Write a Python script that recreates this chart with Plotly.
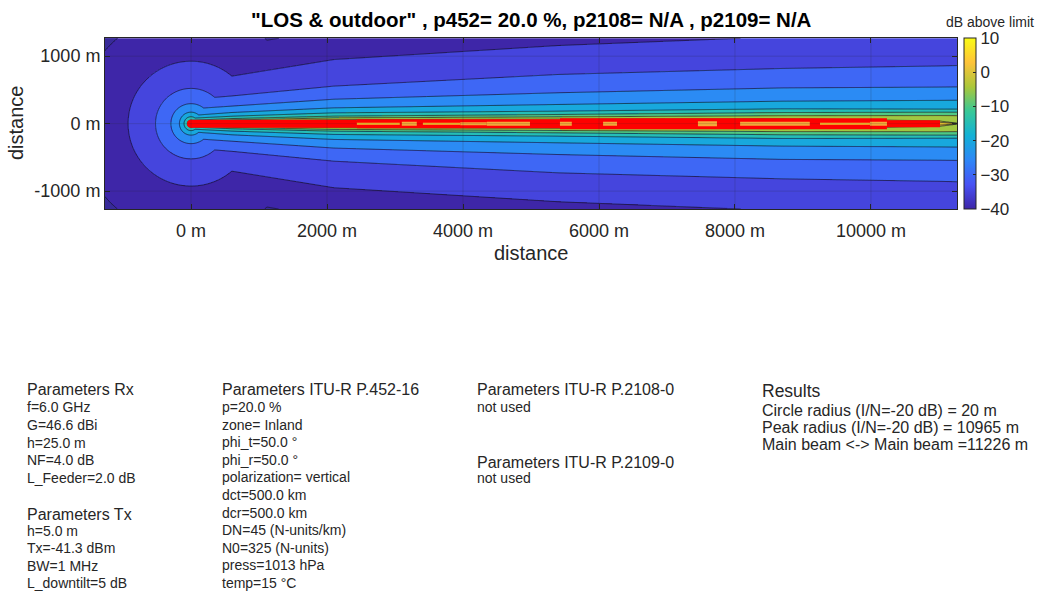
import numpy as np
import plotly.graph_objects as go

# ---------------- data ----------------
levels = [-40, -35, -30, -25, -20, -15, -10, -5, 0, 5]
circle_radius_m = [1665, 925, 522, 296, 170, 103, 54, 30, 17, 9]

beam_x_m = [0, 600, 2100, 5400, 8700, 11000, 11300]
beam_halfwidth_m = {
    -40: [1000, 1150, 1400, 1700, 1850, 1920, 1950],
    -35: [600, 704, 950, 1158, 1290, 1340, 1350],
    -30: [360, 410, 556, 729, 818, 855, 862],
    -25: [219, 260, 362, 458, 530, 542, 545],
    -20: [120, 165, 234, 284, 333, 345, 348],
    -15: [80, 110, 160, 185, 219, 215, 215],
    -10: [50, 75, 111, 136, 165, 170, 170],
    -5: [28, 55, 86, 101, 118, 122, 122],
    0: [16, 35, 60, 68, 75, 40, 0.5],
    5: [8, 20, 30, 35, 40, 20, 0.3],
}

# red exceedance trace along the main beam
red_x0 = [0, 2440, 5426, 10235]
red_x1 = [2440, 5426, 10235, 11015]
red_w = [8, 9, 11, 7]

# hot spots inside the beam core
hot_x0 = [2440, 3100, 3410, 3960, 4350, 5426, 6060, 7455, 8075, 9250, 9985]
hot_x1 = [3070, 3320, 3960, 4350, 4985, 5600, 6265, 7735, 9100, 9985, 10235]
hot_w = [2, 4, 2, 3, 4, 4, 4, 5, 4, 2, 4]
hot_c = ["#f7c62f", "#f5a93a", "#f7c62f", "#f5a93a", "#f5a93a", "#f5a93a",
         "#f5a93a", "#f5a93a", "#f5a93a", "#f7c62f", "#f5a93a"]

x_ticks = [0, 2000, 4000, 6000, 8000, 10000]
y_ticks = [-1000, 0, 1000]
cbar_ticks = [-40, -30, -20, -10, 0, 10]

title = '"LOS & outdoor" , p452= 20.0 %, p2108= N/A , p2109= N/A'

rx_lines = ["f=6.0 GHz", "G=46.6 dBi", "h=25.0 m", "NF=4.0 dB", "L_Feeder=2.0 dB"]
tx_lines = ["h=5.0 m", "Tx=-41.3 dBm", "BW=1 MHz", "L_downtilt=5 dB"]
p452_lines = ["p=20.0 %", "zone= Inland", "phi_t=50.0 °", "phi_r=50.0 °",
              "polarization= vertical", "dct=500.0 km", "dcr=500.0 km",
              "DN=45 (N-units/km)", "N0=325 (N-units)", "press=1013 hPa", "temp=15 °C"]
result_lines = ["Circle radius (I/N=-20 dB) = 20 m",
                "Peak radius (I/N=-20 dB) = 10965 m",
                "Main beam <-> Main beam =11226 m"]

# parula-like colour map
parula = [
    [0.000, "rgb(62,38,168)"],
    [0.143, "rgb(72,82,244)"],
    [0.286, "rgb(46,135,247)"],
    [0.429, "rgb(18,177,214)"],
    [0.571, "rgb(55,200,151)"],
    [0.714, "rgb(171,199,57)"],
    [0.857, "rgb(254,195,56)"],
    [1.000, "rgb(249,251,21)"],
]

# ---------------- field ----------------
XMIN, XMAX, YMIN, YMAX = -1265, 11265, -1265, 1265
xg = np.linspace(XMIN, XMAX, 840)
yg = np.linspace(YMIN, YMAX, 338)
X, Y = np.meshgrid(xg, yg)

lv = np.array(levels, dtype=float)
lv_ext = np.concatenate([[-50.0], lv, [15.0]])

# circular (near-field) part
cr = np.array(circle_radius_m, dtype=float)
cr_ext = np.concatenate([[cr[0] * 3], cr, [cr[-1] / 3]])
R = np.sqrt(X ** 2 + Y ** 2)
Fc = np.interp(np.log(np.maximum(R, 1.0)), np.log(cr_ext[::-1]), lv_ext[::-1])

# beam part (only in front of the antenna), column by column
Fb = np.full_like(X, -60.0)
for j, xv in enumerate(xg):
    if xv < 0:
        continue
    w = np.array([np.interp(xv, beam_x_m, beam_halfwidth_m[L]) for L in levels])
    w_ext = np.concatenate([[w[0] * 3], w, [w[-1] / 3]])
    Fb[:, j] = np.interp(np.log(np.maximum(np.abs(yg), 0.1)), np.log(w_ext[::-1]), lv_ext[::-1])

F = np.maximum(Fc, Fb)
bands = np.clip(np.floor((F + 40) / 5) * 5 - 40, -40, 5)
below = np.where(F < -40, 1.0, np.nan)

FONT = "Liberation Sans, Arial, sans-serif"

fig = go.Figure()
fig.add_trace(go.Heatmap(
    x=xg, y=yg, z=np.round(bands, 1), zmin=-40, zmax=10, colorscale=parula,
    zsmooth=False, hoverinfo="skip",
    colorbar=dict(x=964 / 1037, xanchor="left", xpad=0, y=1 - 209 / 592, yanchor="bottom",
                  len=(209 - 38) / 592, lenmode="fraction", thickness=12, thicknessmode="pixels",
                  outlinewidth=1, outlinecolor="#262626", tickvals=cbar_ticks,
                  ticks="inside", ticklen=3, tickcolor="#262626",
                  tickfont=dict(family=FONT, size=17, color="#262626"),
                  ypad=0),
))
fig.add_trace(go.Heatmap(
    x=xg, y=yg, z=below, colorscale=[[0, "#382a99"], [1, "#382a99"]], showscale=False,
    zsmooth=False, hoverinfo="skip",
))
fig.add_trace(go.Contour(
    x=xg, y=yg, z=np.round(F, 2), showscale=False, hoverinfo="skip",
    contours=dict(start=-40, end=5, size=5, coloring="none"),
    line=dict(color="rgba(20,20,40,0.85)", width=0.8),
))

for a, b, w in zip(red_x0, red_x1, red_w):
    fig.add_trace(go.Scatter(x=[a, b], y=[0, 0], mode="lines", line=dict(color="#ff0000", width=w),
                             hoverinfo="skip", showlegend=False))
for a, b, w, c in zip(hot_x0, hot_x1, hot_w, hot_c):
    fig.add_trace(go.Scatter(x=[a, b], y=[0, 0], mode="lines", line=dict(color=c, width=w),
                             hoverinfo="skip", showlegend=False))
fig.add_trace(go.Scatter(x=[0], y=[0], mode="markers", marker=dict(color="#ff0000", size=8),
                         hoverinfo="skip", showlegend=False))

# grid lines drawn over the filled field
shapes = []
for t in x_ticks:
    shapes.append(dict(type="line", xref="x", yref="y", x0=t, x1=t, y0=YMIN, y1=YMAX,
                       line=dict(color="rgba(38,38,38,0.18)", width=1), layer="above"))
for t in y_ticks:
    shapes.append(dict(type="line", xref="x", yref="y", x0=XMIN, x1=XMAX, y0=t, y1=t,
                       line=dict(color="rgba(38,38,38,0.18)", width=1), layer="above"))

axis_common = dict(showline=True, linecolor="#262626", linewidth=1, mirror="ticks",
                   ticks="inside", ticklen=5, tickcolor="#262626", showgrid=False, zeroline=False,
                   tickfont=dict(family=FONT, size=18, color="#262626"))

fig.update_layout(
    width=1037, height=592, margin=dict(l=0, r=0, t=0, b=0),
    paper_bgcolor="white", plot_bgcolor="white", showlegend=False,
    shapes=shapes,
    xaxis=dict(range=[XMIN, XMAX], domain=[105 / 1037, 957 / 1037], tickvals=x_ticks,
               ticktext=[f"{t} m" for t in x_ticks], layer="above traces",
               ticklabelstandoff=5, **axis_common),
    yaxis=dict(range=[YMIN, YMAX], domain=[1 - 209 / 592, 1 - 38.3 / 592], tickvals=y_ticks,
               ticktext=[f"{t} m" for t in y_ticks], layer="above traces", **axis_common),
)

ann = []


def txt(px, py, s, size, bold=False, anchor="left", angle=0):
    ann.append(dict(x=px / 1037, y=1 - py / 592, xref="paper", yref="paper", text=f"<b>{s}</b>" if bold else s,
                    showarrow=False, xanchor=anchor, yanchor="middle", textangle=angle,
                    borderpad=0, font=dict(family=FONT, size=size, color="black" if bold else "#262626")))


txt(531, 20, title, 20.5, bold=True, anchor="center")
txt(531, 253, "distance", 20, anchor="center")
txt(16, 123, "distance", 20, anchor="center", angle=-90)
txt(990, 22, "dB above limit", 14, anchor="center")

# parameter blocks
txt(26, 389, "Parameters Rx", 16)
for i, s in enumerate(rx_lines):
    txt(26, 407 + i * 17.8, s, 14)
txt(26, 514, "Parameters Tx", 16)
for i, s in enumerate(tx_lines):
    txt(26, 531 + i * 17.4, s, 14)
txt(221, 389, "Parameters ITU-R P.452-16", 16)
for i, s in enumerate(p452_lines):
    txt(221, 407 + i * 17.6, s, 14)
txt(476, 389, "Parameters ITU-R P.2108-0", 16)
txt(476, 407, "not used", 14)
txt(476, 462, "Parameters ITU-R P.2109-0", 16)
txt(476, 478, "not used", 14)
txt(761, 391, "Results", 17.5)
for i, s in enumerate(result_lines):
    txt(761, 410 + i * 17.3, s, 16)

fig.update_layout(annotations=ann)
fig.write_html("out.html")
